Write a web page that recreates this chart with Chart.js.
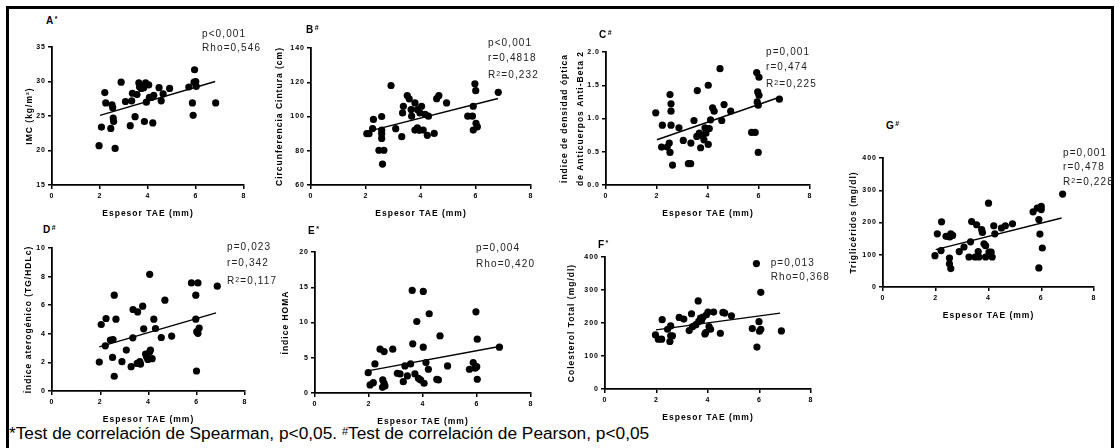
<!DOCTYPE html>
<html><head><meta charset="utf-8">
<script src="https://cdn.jsdelivr.net/npm/chart.js@4.4.1/dist/chart.umd.min.js"></script>
<style>
html,body{margin:0;padding:0;background:#fff;}
body{width:1119px;height:448px;position:relative;overflow:hidden;font-family:"Liberation Sans",Arial,sans-serif;}
#frame{position:absolute;left:6px;top:6px;width:1102px;height:470px;border:3px solid #000;}
canvas{position:absolute;}
.lbl{position:absolute;font-weight:bold;font-size:10px;color:#000;letter-spacing:0.5px;line-height:10px;white-space:nowrap;}
.lbl sup{font-size:7px;position:relative;top:-2px;vertical-align:top;margin-left:1px;}
.st{position:absolute;font-size:10px;color:#222;letter-spacing:1.1px;line-height:10px;white-space:nowrap;}
.st sup{font-size:7px;position:relative;top:-1px;vertical-align:top;}
#foot{position:absolute;left:9px;top:423px;font-size:17.3px;line-height:20px;color:#000;white-space:nowrap;}
#foot sup{font-size:11px;vertical-align:top;position:relative;top:-2px;}
</style>
</head><body>
<div id="frame"></div>
<div id="foot">*Test de correlación de Spearman, p&lt;0,05. <sup>#</sup>Test de correlación de Pearson, p&lt;0,05</div>
<script>
// ---- data (x = Espesor TAE, mm) ----
const xTicks = [0, 2, 4, 6, 8];
const xTitle = 'Espesor TAE (mm)';

const imcPts = [[1.96,20.7],[2.06,23.4],[2.2,28.4],[2.24,26.9],[2.45,23.2],[2.5,26.6],[2.53,26.2],[2.55,24.7],[2.57,24.2],[2.63,20.3],[2.88,29.9],[3.06,27.1],[3.26,23.6],[3.32,27.2],[3.35,28.3],[3.46,24.9],[3.54,28.1],[3.62,29.8],[3.65,29.2],[3.72,29.0],[3.82,29.1],[3.85,24.2],[3.9,29.8],[3.93,27.0],[4.03,29.5],[4.06,27.7],[4.15,27.7],[4.2,24.0],[4.24,28.0],[4.46,29.1],[4.55,27.2],[4.63,28.2],[4.9,29.0],[5.7,29.2],[5.85,26.9],[5.88,25.1],[5.92,29.9],[5.94,31.7],[5.99,30.0],[6.01,29.3],[6.82,26.9]];
const imcFit = [[2.0,25.1],[6.8,30.0]];
const imcTicks = [15, 20, 25, 30, 35];

const cinturaPts = [[2.03,90],[2.11,90],[2.24,93],[2.27,98.3],[2.47,80.3],[2.57,100],[2.57,92],[2.57,90],[2.57,87.2],[2.6,72.2],[2.65,80.3],[2.91,118.1],[3.08,92.9],[3.3,88.2],[3.33,102.1],[3.36,106],[3.5,112.2],[3.57,110.3],[3.64,104.1],[3.66,100.2],[3.78,107.9],[3.78,92.1],[3.87,104.1],[3.87,93.4],[3.94,91.9],[3.96,102.1],[4.02,106],[4.08,92.1],[4.15,101.2],[4.23,89],[4.27,100.2],[4.48,90.1],[4.57,110.4],[4.65,112.2],[4.93,107.9],[5.7,100.2],[5.87,100.2],[5.9,106],[5.9,92.1],[5.96,119.1],[5.99,115.1],[6.0,96],[6.05,94],[6.81,114.1]];
const cinturaFit = [[2.0,91],[6.8,110.5]];
const cinturaTicks = [60, 80, 100, 120, 140];

const antiPts = [[1.95,1.085],[2.18,0.57],[2.21,0.90],[2.4,0.57],[2.48,0.63],[2.51,0.49],[2.51,1.36],[2.55,1.22],[2.55,1.11],[2.55,0.90],[2.61,0.30],[2.86,0.86],[3.03,0.67],[3.23,0.32],[3.32,0.32],[3.33,0.63],[3.45,0.97],[3.56,0.73],[3.58,1.42],[3.66,0.78],[3.71,0.56],[3.79,0.74],[3.84,0.68],[3.88,0.86],[3.92,0.78],[4.01,1.50],[4.01,0.61],[4.05,0.85],[4.1,0.98],[4.18,1.16],[4.24,1.11],[4.47,1.75],[4.54,0.97],[4.63,1.21],[4.89,1.11],[5.71,0.79],[5.85,0.79],[5.91,1.69],[6.0,1.62],[5.95,1.40],[6.0,1.35],[5.93,1.25],[5.97,1.2],[5.97,0.49],[6.8,1.29]];
const antiFit = [[2.0,0.68],[6.8,1.32]];
const antiTicks = [0, 0.5, 1.0, 1.5, 2.0];

const aterPts = [[1.96,2.02],[2.04,4.65],[2.21,3.16],[2.24,5.07],[2.42,3.56],[2.53,3.6],[2.51,2.35],[2.58,1.03],[2.58,6.7],[2.65,5.02],[2.9,2.05],[3.08,2.86],[3.28,1.7],[3.35,3.72],[3.36,5.7],[3.55,5.53],[3.53,1.93],[3.64,2.05],[3.67,1.88],[3.76,5.93],[3.8,4.35],[3.88,2.58],[3.92,2.4],[3.97,2.21],[4.05,2.74],[4.08,2.86],[4.05,8.16],[4.15,2.26],[4.22,5.02],[4.29,4.37],[4.53,3.74],[4.68,6.35],[4.96,3.84],[5.78,7.56],[6.05,7.56],[5.96,6.7],[5.96,5.02],[5.99,1.4],[6.05,4.03],[6.1,4.4],[6.0,4.15],[6.85,7.33]];
const aterFit = [[1.96,3.09],[6.8,5.46]];
const aterTicks = [0, 2, 4, 6, 8, 10];

const homaPts = [[1.97,2.89],[2.04,1.14],[2.16,1.47],[2.22,4.12],[2.41,6.21],[2.51,1.85],[2.5,0.8],[2.56,5.88],[2.56,1.38],[2.59,1.0],[2.88,6.21],[3.05,2.8],[3.15,2.7],[3.27,1.61],[3.33,3.84],[3.42,2.42],[3.54,4.12],[3.6,14.55],[3.62,6.97],[3.7,2.7],[3.77,10.14],[3.83,2.09],[3.91,1.85],[4.01,14.41],[4.01,6.5],[4.04,1.38],[4.11,4.31],[4.2,3.37],[4.23,11.24],[4.51,1.95],[4.57,1.85],[4.63,8.1],[4.91,3.84],[5.72,3.37],[5.86,4.31],[5.93,3.51],[5.96,11.52],[5.99,3.74],[6.01,7.64],[6.01,1.95],[6.83,6.5]];
const homaFit = [[2.0,3.17],[6.83,6.59]];
const homaTicks = [0, 5, 10, 15, 20];

const colPts = [[1.96,164],[2.07,151],[2.2,151],[2.22,210],[2.43,181],[2.52,144],[2.55,191],[2.55,161],[2.62,161],[2.88,217],[3.06,212],[3.27,177],[3.36,228],[3.4,189],[3.53,195],[3.62,267],[3.64,205],[3.71,215],[3.75,208],[3.81,218],[3.88,167],[3.91,171],[3.94,225],[4.0,233],[4.04,189],[4.1,181],[4.22,233],[4.48,169],[4.58,232],[4.65,230],[4.91,222],[5.72,183],[5.88,380],[5.9,127],[5.98,204],[6.0,175],[6.05,293],[6.05,181],[6.85,176]];
const colFit = [[1.98,179],[6.8,230]];
const colTicks = [0, 100, 200, 300, 400];

const trigPts = [[1.97,97],[2.06,165],[2.2,113],[2.22,202],[2.39,157],[2.52,90],[2.52,72],[2.53,155],[2.57,57],[2.57,165],[2.64,160],[2.89,110],[3.07,124],[3.26,93],[3.32,140],[3.36,203],[3.49,93],[3.55,193],[3.61,110],[3.64,93],[3.74,178],[3.77,169],[3.83,134],[3.89,128],[3.89,93],[4.0,260],[4.02,108],[4.1,108],[4.14,93],[4.2,190],[4.24,165],[4.49,183],[4.64,190],[4.91,196],[5.69,233],[5.85,245],[5.91,209],[5.95,164],[5.91,59],[6.0,250],[6.0,240],[6.04,121],[6.81,288]];
const trigFit = [[2.0,116],[6.77,214]];
const trigTicks = [0, 100, 200, 300, 400];

// ---- panel layout ----
const panels = [
  {pts: imcPts, fit: imcFit, yt: imcTicks, title: 'IMC (kg/m²)', dec: 0,
   L: 52, R: 244, T: 46.7, B: 184.3, titleX: 30,
   letter: ['A','*'], letterPos: [46, 16],
   stats: ['p&lt;0,001','Rho=0,546'], statX: 202, statY: [33.5, 48]},
  {pts: cinturaPts, fit: cinturaFit, yt: cinturaTicks, title: 'Circunferencia Cintura (cm)', dec: 0,
   L: 311, R: 531, T: 48.3, B: 185.7, titleX: 280,
   letter: ['B','#'], letterPos: [306, 25],
   stats: ['p&lt;0,001','r=0,4818','R<sup>2</sup>=0,232'], statX: 488, statY: [43.3, 58.3, 75.3]},
  {pts: antiPts, fit: antiFit, yt: antiTicks, title: ['Índice de densidad óptica','de Anticuerpos Anti-Beta 2'], dec: 1,
   L: 606, R: 810, T: 52.3, B: 185.7, titleX: 565,
   letter: ['C','#'], letterPos: [599, 30],
   stats: ['p=0,001','r=0,474','R<sup>2</sup>=0,225'], statX: 766, statY: [52, 67, 84]},
  {pts: aterPts, fit: aterFit, yt: aterTicks, title: 'Índice aterogénico (TG/HDLc)', dec: 0,
   L: 52, R: 245, T: 247.7, B: 391, titleX: 29,
   letter: ['D','#'], letterPos: [43, 225],
   stats: ['p=0,023','r=0,342','R<sup>2</sup>=0,117'], statX: 227, statY: [247.3, 262.7, 281]},
  {pts: homaPts, fit: homaFit, yt: homaTicks, title: 'Índice HOMA', dec: 0,
   L: 315, R: 531, T: 252.3, B: 393, titleX: 286,
   letter: ['E','*'], letterPos: [308, 226],
   stats: ['p=0,004','Rho=0,420'], statX: 476, statY: [248.3, 264.3]},
  {pts: colPts, fit: colFit, yt: colTicks, title: 'Colesterol Total (mg/dl)', dec: 0,
   L: 605, R: 811, T: 257.3, B: 389, titleX: 572,
   letter: ['F','*'], letterPos: [598, 240],
   stats: ['p=0,013','Rho=0,368'], statX: 770.7, statY: [263.3, 276.7]},
  {pts: trigPts, fit: trigFit, yt: trigTicks, title: 'Triglicéridos (mg/dl)', dec: 0,
   L: 883, R: 1094, T: 158.3, B: 287.3, titleX: 854,
   letter: ['G','#'], letterPos: [886, 121],
   stats: ['p=0,001','r=0,478','R<sup>2</sup>=0,228'], statX: 1063, statY: [153.3, 166.7, 182.3]}
];

const FONT = '"Liberation Sans", Arial, sans-serif';
const spacing = {id: 'spacing',
  beforeLayout(c) { c.ctx.letterSpacing = '1px'; },
  beforeDraw(c) { c.ctx.letterSpacing = '1px'; }};

panels.forEach(p => {
  const topPad = 7, rightPad = 10, xH = 36;
  const titleFS = 8.5;
  const multi = Array.isArray(p.title);
  const titleLH = multi ? titleFS * 1.8 : titleFS * 1.2;
  const canvasLeft = Math.round(p.titleX - 9);
  const yW = p.L - canvasLeft;
  const cw = Math.round(yW + (p.R - p.L) + rightPad);
  const ch = Math.round(topPad + (p.B - p.T) + xH);
  const cv = document.createElement('canvas');
  cv.width = cw; cv.height = ch;
  cv.style.left = canvasLeft + 'px';
  cv.style.top = (p.T - topPad) + 'px';
  cv.style.width = cw + 'px'; cv.style.height = ch + 'px';
  document.body.appendChild(cv);

  const axisCommon = {
    grid: {drawOnChartArea: false, drawTicks: true, tickLength: 4, color: '#000', lineWidth: 1.5},
    border: {color: '#000', width: 1.8},
  };
  new Chart(cv, {
    type: 'scatter',
    data: {datasets: [
      {type: 'scatter', data: p.pts.map(([x, y]) => ({x, y})), pointRadius: 3.6,
       pointBackgroundColor: '#000', pointBorderWidth: 0, clip: false},
      {type: 'line', data: p.fit.map(([x, y]) => ({x, y})), borderColor: '#000',
       borderWidth: 1.4, pointRadius: 0, fill: false, clip: false}
    ]},
    options: {
      responsive: false, animation: false, events: [],
      layout: {padding: {top: topPad, right: rightPad, left: 0, bottom: 0}},
      plugins: {legend: {display: false}, tooltip: {enabled: false}},
      scales: {
        x: Object.assign({}, axisCommon, {
          type: 'linear', min: xTicks[0], max: xTicks[xTicks.length - 1],
          afterBuildTicks: s => { s.ticks = xTicks.map(v => ({value: v})); },
          afterFit: s => { s.height = xH; },
          ticks: {font: {family: FONT, size: 7, weight: 'bold'}, color: '#000', padding: 3, maxRotation: 0, autoSkip: false},
          title: {display: true, text: xTitle, color: '#000', font: {family: FONT, size: titleFS, weight: 'bold'},
                  padding: {top: 0, bottom: 36 - 28.5 - titleFS * 0.6}}
        }),
        y: Object.assign({}, axisCommon, {
          type: 'linear', min: p.yt[0], max: p.yt[p.yt.length - 1],
          afterBuildTicks: s => { s.ticks = p.yt.map(v => ({value: v})); },
          afterFit: s => { s.width = yW; },
          ticks: {font: {family: FONT, size: 7, weight: 'bold'}, color: '#000', padding: 2, autoSkip: false,
                  callback: v => v.toFixed(p.dec)},
          title: {display: true, text: p.title, color: '#000',
                  font: {family: FONT, size: titleFS, weight: 'bold', lineHeight: multi ? 1.8 : 1.2},
                  padding: {top: 9 - titleLH / 2, bottom: 0}}
        })
      }
    },
    plugins: [spacing]
  });

  const lab = document.createElement('div');
  lab.className = 'lbl';
  lab.style.left = p.letterPos[0] + 'px'; lab.style.top = p.letterPos[1] + 'px';
  lab.innerHTML = p.letter[0] + '<sup>' + p.letter[1] + '</sup>';
  document.body.appendChild(lab);

  p.stats.forEach((s, i) => {
    const d = document.createElement('div');
    d.className = 'st';
    d.style.left = p.statX + 'px';
    d.style.top = (p.statY[i] - 5) + 'px';
    d.innerHTML = s;
    document.body.appendChild(d);
  });
});
</script>
</body></html>
